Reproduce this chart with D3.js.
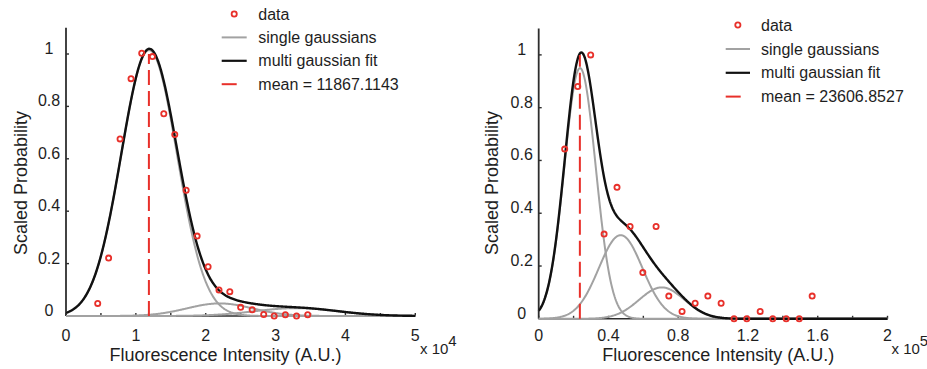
<!DOCTYPE html>
<html><head><meta charset="utf-8">
<script src="https://cdn.jsdelivr.net/npm/d3@7"></script>
<style>
body{margin:0;background:#fff}
svg{display:block;font-family:"Liberation Sans",Arial,sans-serif}
</style>
</head><body>
<svg id="c" width="927" height="369"></svg>
<script>
// ---------- Left panel data ----------
const leftX = [4540, 6100, 7740, 9310, 10840, 12370, 14000, 15570, 17200, 18770, 20340, 21900, 23450, 25000, 26650, 28300, 29800, 31400, 33000, 34600];
const leftY = [0.048, 0.221, 0.676, 0.906, 1.003, 0.990, 0.772, 0.693, 0.480, 0.305, 0.188, 0.099, 0.093, 0.033, 0.024, 0.006, 0.000, 0.005, 0.000, 0.005];
// single gaussian components: amplitude, centre, width
const leftAmps = [1.015, 0.048, 0.030];
const leftCenters = [11900, 22000, 33000];
const leftWidths = [4000, 4700, 6000];
const leftMean = 11867.1143;
const leftXTicks = [0, 5000, 10000, 15000, 20000, 25000, 30000, 35000, 40000, 45000, 50000];
const leftXLabelValues = [0, 10000, 20000, 30000, 40000, 50000];
const leftXLabels = ["0", "1", "2", "3", "4", "5"];
const leftExponent = "4";

// ---------- Right panel data ----------
const rightX = [14900, 22400, 29800, 37500, 44900, 52400, 59700, 67300, 74600, 82200, 89700, 97000, 104600, 112000, 119300, 127000, 134200, 141900, 149400, 156800];
const rightY = [0.643, 0.880, 1.000, 0.321, 0.498, 0.350, 0.175, 0.350, 0.086, 0.028, 0.059, 0.086, 0.059, 0.000, 0.000, 0.028, 0.000, 0.000, 0.000, 0.086];
const rightAmps = [0.950, 0.317, 0.119];
const rightCenters = [23700, 47000, 70600];
const rightWidths = [9000, 12500, 13000];
const rightMean = 23606.8527;
const rightXTicks = [0, 20000, 40000, 60000, 80000, 100000, 120000, 140000, 160000, 180000, 200000];
const rightXLabelValues = [0, 40000, 80000, 120000, 160000, 200000];
const rightXLabels = ["0", "0.4", "0.8", "1.2", "1.6", "2"];
const rightExponent = "5";

// ---------- shared ----------
const yTickValues = [0, 0.2, 0.4, 0.6, 0.8, 1];
const yTickLabels = ["0", "0.2", "0.4", "0.6", "0.8", "1"];
const legendLabels = ["data", "single gaussians", "multi gaussian fit"];
const xTitle = "Fluorescence Intensity (A.U.)";
const yTitle = "Scaled Probability";

const RED = "#e8302a", GRAY = "#a2a2a2", BLACK = "#111", TXT = "#1e1e1e", AXIS = "#2e2e2e";

const svg = d3.select("#c");

function gaussian(a, m, s) { return x => a * Math.exp(-((x - m) * (x - m)) / (2 * s * s)); }

function panel(cfg) {
  const g = svg.append("g");
  const x = d3.scaleLinear().domain([0, cfg.xMax]).range([cfg.left, cfg.right]);
  const y = d3.scaleLinear().domain([0, 1.1]).range([cfg.bottom, cfg.top]);

  // axis lines
  g.append("line").attr("x1", x(0)).attr("x2", x(cfg.xMax)).attr("y1", y(0)).attr("y2", y(0))
    .attr("stroke", AXIS).attr("stroke-width", 1.6);
  g.append("line").attr("x1", x(0)).attr("x2", x(0)).attr("y1", y(0)).attr("y2", y(1.1))
    .attr("stroke", AXIS).attr("stroke-width", 1.8);

  // ticks (inward)
  g.selectAll(".xt").data(cfg.xTicks).join("line")
    .attr("x1", d => x(d)).attr("x2", d => x(d)).attr("y1", y(0)).attr("y2", y(0) - 3)
    .attr("stroke", AXIS).attr("stroke-width", 1.4);
  g.selectAll(".yt").data(yTickValues).join("line")
    .attr("x1", x(0)).attr("x2", x(0) + 3).attr("y1", d => y(d)).attr("y2", d => y(d))
    .attr("stroke", AXIS).attr("stroke-width", 1.4);

  // tick labels
  g.selectAll(".xl").data(cfg.xLabelValues).join("text")
    .attr("x", d => x(d)).attr("y", 341).attr("text-anchor", "middle")
    .attr("font-size", 16).attr("fill", TXT).text((d, i) => cfg.xLabels[i]);
  g.selectAll(".yl").data(yTickValues).join("text")
    .attr("x", x(0) - 17).attr("y", d => y(d) - 5.5).attr("text-anchor", "middle")
    .attr("dominant-baseline", "central")
    .attr("font-size", 16).attr("fill", TXT).text((d, i) => yTickLabels[i]);

  // exponent
  const ex = g.append("text").attr("x", cfg.expX).attr("y", cfg.expY).attr("font-size", 15).attr("fill", TXT);
  ex.append("tspan").text("x 10");
  ex.append("tspan").attr("dy", -8).text(cfg.exponent);

  // axis titles
  g.append("text").attr("x", cfg.xTitleX).attr("y", 361).attr("text-anchor", "middle")
    .attr("font-size", 18).attr("fill", TXT).text(xTitle);
  g.append("text").attr("transform", `translate(${cfg.yTitleX},183) rotate(-90)`)
    .attr("text-anchor", "middle").attr("dominant-baseline", "central")
    .attr("font-size", 18).attr("fill", TXT).text(yTitle);

  // curves
  const comps = cfg.amps.map((a, i) => gaussian(a, cfg.centers[i], cfg.widths[i]));
  const xs = d3.range(0, cfg.xMax + 1, cfg.xMax / 500);
  const line = d3.line().x(d => x(d[0])).y(d => y(d[1]));
  comps.forEach(f => {
    g.append("path").attr("d", line(xs.map(v => [v, f(v)])))
      .attr("fill", "none").attr("stroke", GRAY).attr("stroke-width", 2);
  });
  g.append("path").attr("d", line(xs.map(v => [v, d3.sum(comps, f => f(v))])))
    .attr("fill", "none").attr("stroke", BLACK).attr("stroke-width", 2.4);

  // mean line
  g.append("line").attr("x1", x(cfg.mean)).attr("x2", x(cfg.mean)).attr("y1", y(0)).attr("y2", y(1))
    .attr("stroke", RED).attr("stroke-width", 2).attr("stroke-dasharray", "15,6");

  // data
  g.selectAll(".pt").data(cfg.dx.map((v, i) => [v, cfg.dy[i]])).join("circle")
    .attr("cx", d => x(d[0])).attr("cy", d => y(d[1])).attr("r", 2.6)
    .attr("fill", "none").attr("stroke", RED).attr("stroke-width", 1.8);

  // legend
  const L = cfg.legend;
  const rows = L.rows;
  g.append("circle").attr("cx", (L.x1 + L.x2) / 2).attr("cy", rows[0]).attr("r", 2.6)
    .attr("fill", "none").attr("stroke", RED).attr("stroke-width", 1.8);
  g.append("line").attr("x1", L.x1).attr("x2", L.x2).attr("y1", rows[1]).attr("y2", rows[1])
    .attr("stroke", GRAY).attr("stroke-width", 2);
  g.append("line").attr("x1", L.x1).attr("x2", L.x2).attr("y1", rows[2]).attr("y2", rows[2])
    .attr("stroke", BLACK).attr("stroke-width", 2.2);
  g.append("line").attr("x1", L.x1).attr("x2", L.x1 + 15).attr("y1", rows[3]).attr("y2", rows[3])
    .attr("stroke", RED).attr("stroke-width", 2);
  const labels = legendLabels.concat(["mean = " + cfg.mean.toFixed(4)]);
  g.selectAll(".lg").data(labels).join("text")
    .attr("x", L.tx).attr("y", (d, i) => rows[i]).attr("dominant-baseline", "central")
    .attr("font-size", 16).attr("fill", TXT).text(d => d);
}

panel({
  left: 66, right: 415.3, top: 27.8, bottom: 316, xMax: 50000,
  xTicks: leftXTicks, xLabelValues: leftXLabelValues, xLabels: leftXLabels,
  exponent: leftExponent, expX: 420, expY: 353.5,
  xTitleX: 225.5, yTitleX: 21,
  amps: leftAmps, centers: leftCenters, widths: leftWidths, mean: leftMean,
  dx: leftX, dy: leftY,
  legend: { x1: 221.7, x2: 246.7, tx: 258.3, rows: [14, 37.4, 60.8, 84.2] }
});
panel({
  left: 538.7, right: 887.5, top: 28.5, bottom: 318.8, xMax: 200000,
  xTicks: rightXTicks, xLabelValues: rightXLabelValues, xLabels: rightXLabels,
  exponent: rightExponent, expX: 891.5, expY: 354,
  xTitleX: 718.3, yTitleX: 492,
  amps: rightAmps, centers: rightCenters, widths: rightWidths, mean: rightMean,
  dx: rightX, dy: rightY,
  legend: { x1: 725.7, x2: 750, tx: 761, rows: [25, 49, 72.8, 96.6] }
});
</script>
</body></html>
